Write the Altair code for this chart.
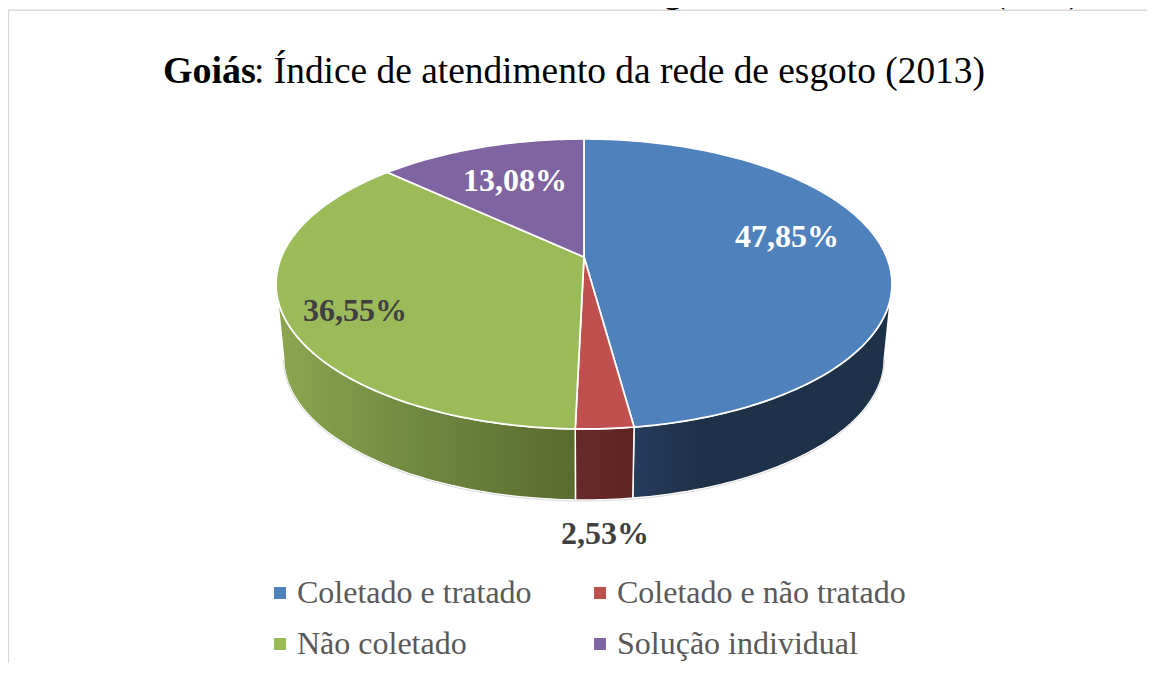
import math
import altair as alt
import pandas as pd

categories = ["Coletado e tratado", "Coletado e não tratado", "Não coletado", "Solução individual"]
values = [47.85, 2.53, 36.55, 13.08]
colors = ["#4F81BD", "#C0504D", "#9BBB59", "#8064A2"]
value_labels = ["47,85%", "2,53%", "36,55%", "13,08%"]
label_colors = ["#FFFFFF", "#404040", "#404040", "#FFFFFF"]
label_x = [787, 605, 355, 515]
label_y = [237, 534, 311, 181]

SERIF = "Liberation Serif"
W, H = 1139, 655
xs = alt.Scale(domain=[8, 8 + W], nice=False, zero=False)
ys = alt.Scale(domain=[8 + H, 8], nice=False, zero=False)
X = alt.X("x:Q", scale=xs, axis=None)
Y = alt.Y("y:Q", scale=ys, axis=None)

# perspective projection of the pie disc
CX, HY, A, B, P = 584.0, 257.0, 140.0, 302.6, 0.186
S, DZ = 0.975, 75.3


def rim(deg, s=1.0, dz=0.0):
    t = math.radians(deg)
    u, v = math.sin(t), math.cos(t)
    den = 1 + P * v
    return CX + s * B * u / den, HY + dz - s * A * v / den


def arc_degs(a0, a1):
    n = max(2, int(abs(a1 - a0)) + 1)
    return [a0 + (a1 - a0) * i / n for i in range(n + 1)]


total = sum(values)
edges = [0.0]
for v in values:
    edges.append(edges[-1] + 360.0 * v / total)

# top faces
rows = []
for c, a0, a1 in zip(categories, edges[:-1], edges[1:]):
    pts = [(CX, HY)] + [rim(d) for d in arc_degs(a0, a1)] + [(CX, HY)]
    for i, (x, y) in enumerate(pts):
        rows.append({"cat": c, "x": x, "y": y, "i": i})
top_df = pd.DataFrame(rows)

# side walls: visible from the right silhouette to the left one
sil = math.degrees(math.acos(-P))
walls = [
    (sil, edges[1], [("#1D3149", 0.0), ("#1D3149", 0.75), ("#263C5C", 1.0)]),
    (edges[1], edges[2], [("#5F2523", 0.0), ("#682A28", 1.0)]),
    (edges[2], 360 - sil, [("#5A6B30", 0.0), ("#6E8740", 0.5), ("#8CA650", 1.0)]),
]
wall_layers = []
for a0, a1, stops in walls:
    ds = arc_degs(a0, a1)
    pts = [rim(d) for d in ds] + [rim(d, S, DZ) for d in reversed(ds)]
    pts.append(pts[0])
    df = pd.DataFrame({"x": [p[0] for p in pts], "y": [p[1] for p in pts], "i": range(len(pts))})
    grad = alt.Gradient(
        gradient="linear", x1=1, x2=0, y1=0, y2=0,
        stops=[alt.GradientStop(color=c, offset=o) for c, o in stops],
    )
    wall_layers.append(
        alt.Chart(df).mark_line(fill=grad, stroke="#FFFFFF", strokeWidth=1.5)
        .encode(x=X, y=Y, order=alt.Order("i:Q"))
    )

# thin grey outer edge of the bottom rim
edge_ds = arc_degs(sil, 360 - sil)
edge_pts = [rim(d, S, DZ + 1) for d in edge_ds]
edge_df = pd.DataFrame({"x": [p[0] for p in edge_pts], "y": [p[1] for p in edge_pts], "i": range(len(edge_pts))})
edge = alt.Chart(edge_df).mark_line(stroke="#D9D9D9", strokeWidth=1).encode(x=X, y=Y, order=alt.Order("i:Q"))

top = alt.Chart(top_df).mark_line(stroke="#FFFFFF", strokeWidth=1.75).encode(
    x=X, y=Y, order=alt.Order("i:Q"),
    fill=alt.Fill(
        "cat:N",
        scale=alt.Scale(domain=categories, range=colors),
        sort=categories,
        legend=alt.Legend(
            title=None, orient="none", legendX=256, legendY=569, columns=2, direction="horizontal",
            padding=0, symbolType="square", symbolSize=144, symbolStrokeWidth=0,
            symbolStrokeColor="transparent",
            labelFont=SERIF, labelFontSize=32, labelColor="#595959", labelLimit=400,
            columnPadding=52, rowPadding=19, symbolOffset=0, labelOffset=1,
        ),
    ),
)

labels_df = pd.DataFrame({"t": value_labels, "x": label_x, "y": label_y, "c": label_colors})
labels = alt.Chart(labels_df).mark_text(
    font=SERIF, fontWeight="bold", fontSize=32, align="center", baseline="middle"
).encode(x=X, y=Y, text="t:N", color=alt.Color("c:N", scale=None))

title_df = pd.DataFrame({"t": ["Goiás", ": Índice de atendimento da rede de esgoto (2013)"],
                         "x": [163, 254], "y": [83, 83]})
title_a = alt.Chart(title_df.iloc[[0]]).mark_text(
    font=SERIF, fontWeight="bold", fontSize=38, align="left", baseline="alphabetic", color="#000000"
).encode(x=X, y=Y, text="t:N")
title_b = alt.Chart(title_df.iloc[[1]]).mark_text(
    font=SERIF, fontSize=37.4, align="left", baseline="alphabetic", color="#000000"
).encode(x=X, y=Y, text="t:N")

heading_df = pd.DataFrame({"t": ["Gráfico 02: Índice de atendimento da rede de esgoto no estado de Goiás (2013)"],
                           "x": [13], "y": [3]})
heading = alt.Chart(heading_df).mark_text(
    font=SERIF, fontWeight="bold", fontSize=32, align="left", baseline="alphabetic", color="#000000"
).encode(x=X, y=Y, text="t:N")

frame_h = alt.Chart(pd.DataFrame({"x": [8], "x2": [1155], "y": [10.3]})).mark_rule(
    color="#D9D9D9", strokeWidth=1.5
).encode(x=X, x2="x2:Q", y=Y)
frame_v = alt.Chart(pd.DataFrame({"x": [8.4], "y": [10], "y2": [675]})).mark_rule(
    color="#D9D9D9", strokeWidth=1.5
).encode(x=X, y=Y, y2="y2:Q")

chart = alt.layer(
    frame_h, frame_v, heading, *wall_layers, edge, top, labels, title_a, title_b
).properties(
    width=W, height=H, padding=0,
    autosize=alt.AutoSizeParams(type="none"),
).configure_view(stroke=None)

chart.save("out.html", embed_options={"renderer": "svg", "actions": False})
